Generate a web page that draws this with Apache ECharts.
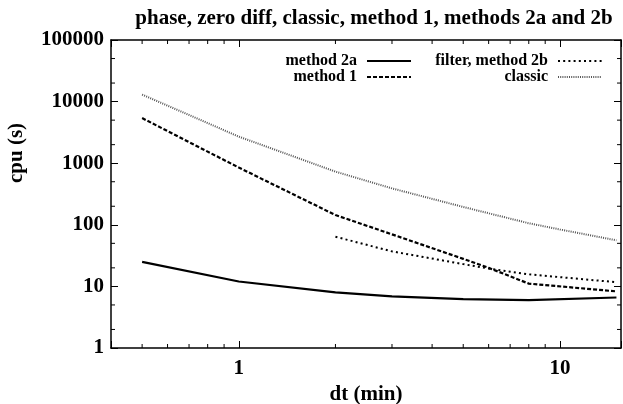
<!DOCTYPE html>
<html><head><meta charset="utf-8">
<script src="https://cdn.jsdelivr.net/npm/echarts@6/dist/echarts.min.js"></script>
<style>html,body{margin:0;padding:0;background:#fff}#c{width:623px;height:404px}</style>
</head><body><div id="c"></div>
<script>
const dt2a = [0.5, 1, 2, 3, 5, 8, 15];
const cpu2a = [25, 12, 8, 6.9, 6.2, 6.0, 6.6];
const dt1 = [0.5, 1, 2, 3, 5, 6, 8, 15];
const cpu1 = [5400, 850, 144, 70, 28, 20, 11.1, 8.3];
const dt2b = [2, 3, 5, 6, 8, 15];
const cpu2b = [64, 37, 23, 19.5, 15.7, 11.7];
const dtClassic = [0.5, 1, 2, 3, 5, 8, 10, 15];
const cpuClassic = [13000, 2700, 730, 390, 195, 106, 84, 56];
const xTickLabels = [1, 10];
const yTickLabels = [1, 10, 100, 1000, 10000, 100000];
const xMinorTicks = [0.5, 0.6, 0.7, 0.8, 0.9, 2, 3, 4, 5, 6, 7, 8, 9];
const yMinorTicks = [2, 5, 20, 50, 200, 500, 2000, 5000, 20000, 50000];

const FONT = "'Liberation Serif', 'Times New Roman', serif";
const pairs = (xs, ys) => xs.map((x, i) => [x, ys[i]]);
const isIn = (list, v) => list.some(t => Math.abs(Math.log10(t) - Math.log10(v)) < 1e-6);

const chart = echarts.init(document.getElementById('c'), null, {renderer: 'canvas'});
const axisLine = {show: true, lineStyle: {color: '#000', width: 1.5}};
const axisTick = {show: true, inside: true, length: 7, lineStyle: {color: '#000', width: 1}};
const labelStyle = {fontFamily: FONT, fontWeight: 'bold', fontSize: 21, color: '#000'};

const baseX = {type: 'log', logBase: 10, min: 0.4, max: 15.5, splitLine: {show: false}, axisLine, axisTick};
const baseY = {type: 'log', logBase: 10, min: 1, max: 100000, splitLine: {show: false}, axisLine, axisTick};

function legendCfg(names, right) {
  return {
    data: names, orient: 'vertical', right: right, top: 53, align: 'right',
    itemWidth: 44, itemHeight: 12, itemGap: 0, padding: 0,
    selectedMode: false,
    itemStyle: {opacity: 0},
    textStyle: {fontFamily: FONT, fontWeight: 'bold', fontSize: 16, color: '#000', padding: [0, 5, 0, 0]}
  };
}

const option = {
  animation: false,
  backgroundColor: '#fff',
  title: {
    text: 'phase, zero diff, classic, method 1, methods 2a and 2b',
    left: 374, top: 8, textAlign: 'center', padding: 0,
    textStyle: {fontFamily: FONT, fontWeight: 'bold', fontSize: 21, color: '#000'}
  },
  grid: {left: 111, right: 2, top: 40, bottom: 56, containLabel: false, outerBoundsMode: 'none'},
  legend: [
    legendCfg(['method 2a', 'method 1'], 211),
    legendCfg(['filter, method 2b', 'classic'], 20)
  ],
  xAxis: [
    Object.assign({}, baseX, {
      position: 'bottom',
      axisLabel: Object.assign({}, labelStyle, {margin: 10, formatter: v => isIn(xTickLabels, v) ? String(Math.round(v)) : ''}),
      name: 'dt (min)', nameLocation: 'middle', nameGap: 26,
      nameTextStyle: {fontFamily: FONT, fontWeight: 'bold', fontSize: 21, color: '#000'}
    }),
    Object.assign({}, baseX, {position: 'top', axisLabel: {show: false}})
  ],
  yAxis: [
    Object.assign({}, baseY, {
      position: 'left',
      axisLabel: Object.assign({}, labelStyle, {margin: 7, formatter: v => isIn(yTickLabels, v) ? String(Math.round(v)) : ''})
    }),
    Object.assign({}, baseY, {position: 'right', axisLabel: {show: false}})
  ],
  series: [
    {name: 'method 2a', type: 'line', symbol: 'none', data: pairs(dt2a, cpu2a),
     lineStyle: {color: '#000', width: 2.2, type: 'solid'}, itemStyle: {color: '#000'}},
    {name: 'method 1', type: 'line', symbol: 'none', data: pairs(dt1, cpu1),
     lineStyle: {color: '#000', width: 2.2, type: [4, 2]}, itemStyle: {color: '#000'}},
    {name: 'filter, method 2b', type: 'line', symbol: 'none', data: pairs(dt2b, cpu2b),
     lineStyle: {color: '#000', width: 2, type: [2, 3.2]}, itemStyle: {color: '#000'}},
    {name: 'classic', type: 'line', symbol: 'none', data: pairs(dtClassic, cpuClassic),
     lineStyle: {color: '#555', width: 2, type: [1, 1.2]}, itemStyle: {color: '#555'}}
  ]
};
chart.setOption(option);

const px = v => chart.convertToPixel({xAxisIndex: 0}, v);
const py = v => chart.convertToPixel({yAxisIndex: 0}, v);
const L = px(0.4), R = px(15.5), T = py(100000), B = py(1);
const ML = 4;
const g = [];
const tick = (x1, y1, x2, y2) => g.push({type: 'line', silent: true, shape: {x1, y1, x2, y2}, style: {stroke: '#000', lineWidth: 1}});
xMinorTicks.forEach(v => { const x = px(v); tick(x, B, x, B - ML); tick(x, T, x, T + ML); });
yMinorTicks.forEach(v => { const y = py(v); tick(L, y, L + ML, y); tick(R, y, R - ML, y); });
g.push({type: 'text', silent: true, x: 17, y: 153, rotation: Math.PI / 2,
  style: {text: 'cpu (s)', align: 'center', verticalAlign: 'middle', fontFamily: FONT, fontWeight: 'bold', fontSize: 21, fill: '#000'}});
chart.setOption({graphic: g});
</script>
</body></html>
